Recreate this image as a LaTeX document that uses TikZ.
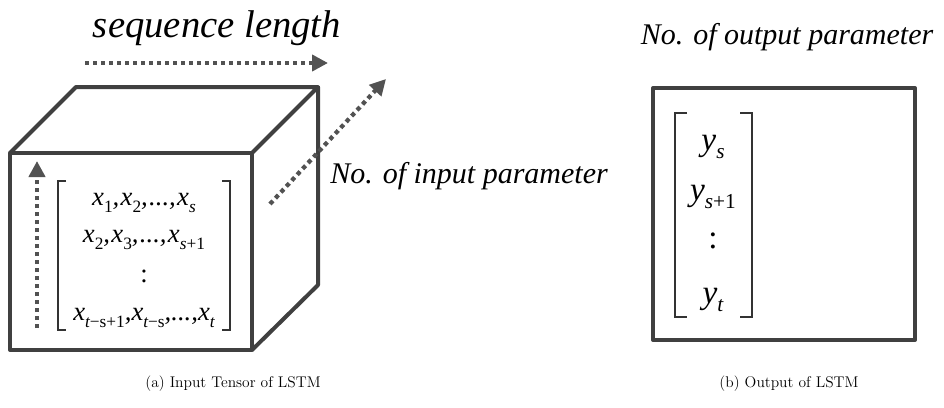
\documentclass[tikz,border=0pt]{standalone}
\usepackage{fontspec}
\newfontfamily\tms{Liberation Serif}
\usetikzlibrary{arrows.meta}
\newcommand\lowtxt[2][13]{\raisebox{-0.55ex}{\fontsize{#1}{#1}\selectfont #2}}
\tikzset{
  edge/.style={draw=black!75,line width=3pt,line join=round},
  dotarrow/.style={draw=black!68,line width=3.2pt,dash pattern=on 3.2pt off 2.8pt,
    -{Triangle[length=12pt,width=12pt]}},
  brack/.style={draw=black!80,line width=0.8pt},
  lbl/.style={font=\tms\itshape\fontsize{22.5}{26}\selectfont,inner sep=0pt},
  xrow/.style={font=\tms\itshape\fontsize{20}{22}\selectfont,inner sep=0pt},
  yrow/.style={font=\tms\itshape\fontsize{25}{28}\selectfont,inner sep=0pt},
  captxt/.style={font=\fontsize{11.6}{14}\selectfont,inner sep=0pt},
}
\begin{document}
\begin{tikzpicture}[x=0.75pt,y=-0.75pt]
  \useasboundingbox (0,0) rectangle (944,407);
  % cube
  \coordinate (ftl) at (10,153);
  \coordinate (ftr) at (252,153);
  \coordinate (fbr) at (252,350);
  \coordinate (fbl) at (10,350);
  \coordinate (btl) at (76,87);
  \coordinate (btr) at (318,87);
  \coordinate (bbr) at (318,285);
  \draw[edge] (ftl) -- (ftr) -- (fbr) -- (fbl) -- cycle;
  \draw[edge] (ftl) -- (btl) -- (btr) -- (ftr);
  \draw[edge] (btr) -- (bbr) -- (fbr);
  % axis arrows
  \coordinate (s0) at (85,63);
  \coordinate (s1) at (328,63);
  \coordinate (d0) at (270,204);
  \coordinate (d1) at (386,79);
  \coordinate (v0) at (37,328);
  \coordinate (v1) at (37,161);
  \draw[dotarrow] (s0) -- (s1);
  \draw[dotarrow] (d0) -- (d1);
  \draw[dotarrow] (v0) -- (v1);
  \node[lbl,font=\tms\itshape\fontsize{29}{32}\selectfont] (seq) at (217,28) {sequence length};
  \node[lbl,anchor=west] (inp) at (330,176) {No. of input parameter};
  % input matrix
  \node[xrow] (r1) at (144,203) {x\lowtxt{\upshape 1},\kern1pt x\lowtxt{\upshape 2},\kern1pt...,\kern1pt x\lowtxt{s}};
  \node[xrow] (r2) at (144,240) {x\lowtxt{\upshape 2},\kern1pt x\lowtxt{\upshape 3},\kern1pt...,\kern1pt x\lowtxt{s\upshape +1}};
  \node[xrow,font=\tms\fontsize{20}{22}\selectfont] (r3) at (144,276) {:};
  \node[xrow] (r4) at (144,318) {x\lowtxt{t\upshape −s\upshape +1},x\lowtxt{t\upshape −s},...,x\lowtxt{t}};
  \draw[brack] (66,181) -- (58,181) -- (58,330) -- (66,330);
  \draw[brack] (222,181) -- (230,181) -- (230,330) -- (222,330);
  % output
  \node[lbl] (outp) at (787,37) {No. of output parameter};
  \coordinate (otl) at (653,88);
  \coordinate (obr) at (915,340);
  \draw[edge] (otl) rectangle (obr);
  \node[yrow] (y1) at (713,147) {y\lowtxt[16]{s}};
  \node[yrow] (y2) at (713,197) {y\lowtxt[16]{s\upshape +1}};
  \node[yrow,font=\tms\fontsize{25}{28}\selectfont] (y3) at (713,241) {:};
  \node[yrow] (y4) at (713,300) {y\lowtxt[16]{t}};
  \draw[brack,line width=1pt] (687,113) -- (675,113) -- (675,317) -- (687,317);
  \draw[brack,line width=1pt] (740,113) -- (752,113) -- (752,317) -- (740,317);
  % captions
  \node[captxt] (capa) at (233,384) {(a) Input Tensor of LSTM};
  \node[captxt] (capb) at (789,384) {(b) Output of LSTM};
\end{tikzpicture}
\end{document}
